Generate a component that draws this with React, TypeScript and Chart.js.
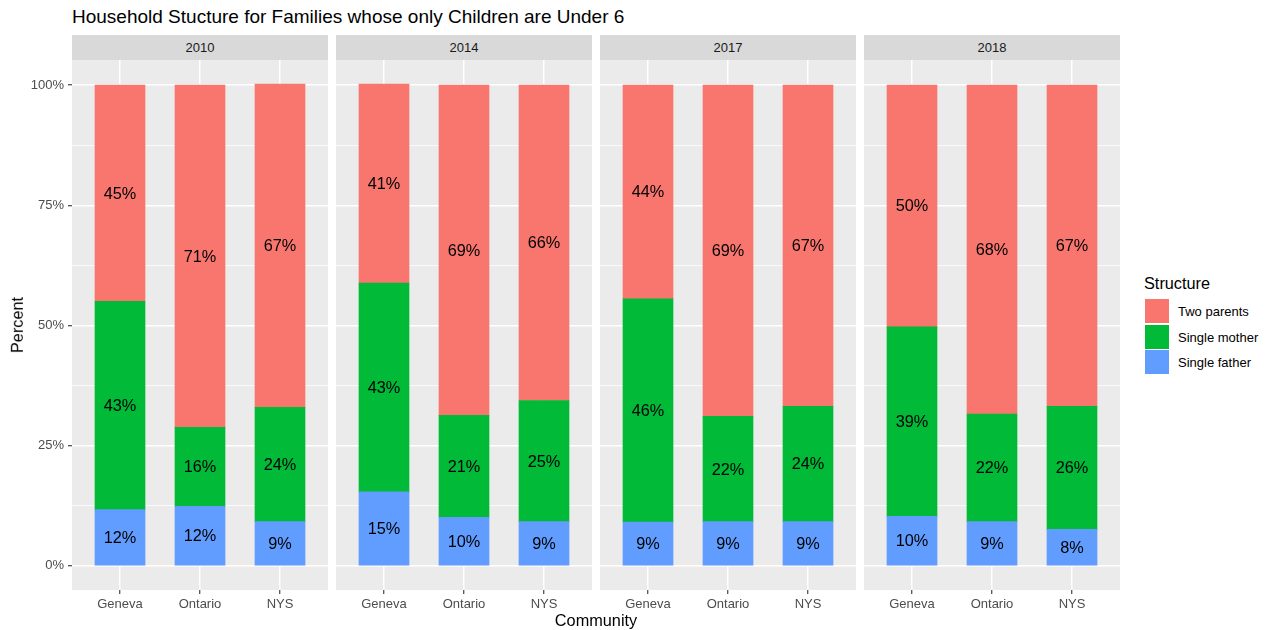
import React, { useEffect, useRef } from "react";
import { Chart, registerables } from "chart.js";

Chart.register(...registerables);

// ---- data ----
const years = ["2010", "2014", "2017", "2018"];
const communities = ["Geneva", "Ontario", "NYS"];
const seriesNames = ["Single father", "Single mother", "Two parents"];
const seriesColors = ["#619CFF", "#00BA38", "#F8766D"];
// values per year (rows) for Geneva, Ontario, NYS (columns)
const singleFather = [
  [11.7, 12.4, 9.2],
  [15.4, 10.1, 9.2],
  [9.1, 9.2, 9.2],
  [10.3, 9.2, 7.6],
];
const singleMother = [
  [43.3, 16.4, 23.8],
  [43.4, 21.2, 25.2],
  [46.45, 21.9, 24.0],
  [39.4, 22.4, 25.6],
];
const twoParents = [
  [45.0, 71.2, 67.2],
  [41.4, 68.7, 65.6],
  [44.45, 68.9, 66.8],
  [50.3, 68.4, 66.8],
];
const yMajorTicks = [0, 25, 50, 75, 100];
const yMinorTicks = [12.5, 37.5, 62.5, 87.5];
const legendOrder = ["Two parents", "Single mother", "Single father"];

const FONT = "'Liberation Sans', Arial, Helvetica, sans-serif";
const PANEL_TOP = 60;
const PANEL_H = 530;
const PANEL_W = 256;
const Y_AXIS_W = 72;
const X_AXIS_H = 40;
const panelLefts = [72, 336, 600, 864];

const bgPlugin = {
  id: "panelBg",
  beforeDraw(chart: any) {
    const { ctx, chartArea: a } = chart;
    ctx.save();
    ctx.fillStyle = "#EBEBEB";
    ctx.fillRect(a.left, a.top, a.right - a.left, a.bottom - a.top);
    ctx.restore();
  },
};

const labelPlugin = {
  id: "barLabels",
  afterDatasetsDraw(chart: any) {
    const { ctx } = chart;
    ctx.save();
    ctx.fillStyle = "#000000";
    ctx.font = `16.3px ${FONT}`;
    ctx.textAlign = "center";
    ctx.textBaseline = "middle";
    chart.data.datasets.forEach((ds: any, i: number) => {
      const meta = chart.getDatasetMeta(i);
      meta.data.forEach((el: any, j: number) => {
        const p = el.getProps(["x", "y", "base"], true);
        const v = ds.data[j].y;
        ctx.fillText(`${Math.round(v)}%`, p.x, (p.y + p.base) / 2 + 1);
      });
    });
    ctx.restore();
  },
};

function Panel({ index, showY }: { index: number; showY: boolean }) {
  const ref = useRef<HTMLCanvasElement>(null);
  const canvasW = PANEL_W + (showY ? Y_AXIS_W : 0);
  const canvasH = PANEL_H + X_AXIS_H;
  const left = panelLefts[index] - (showY ? Y_AXIS_W : 0);

  useEffect(() => {
    const seriesValues = [singleFather[index], singleMother[index], twoParents[index]];
    const chart = new Chart(ref.current as HTMLCanvasElement, {
      type: "bar",
      data: {
        datasets: seriesValues.map((vals, i) => ({
          label: seriesNames[i],
          data: vals.map((v, j) => ({ x: j + 1, y: v })),
          backgroundColor: seriesColors[i],
          borderWidth: 0,
          barThickness: 50,
        })),
      },
      options: {
        animation: false,
        responsive: false,
        events: [],
        layout: { padding: 0 },
        plugins: {
          legend: { display: false },
          title: { display: false },
          tooltip: { enabled: false },
        },
        scales: {
          x: {
            type: "linear",
            min: 0.4,
            max: 3.6,
            stacked: true,
            offset: false,
            afterBuildTicks: (s: any) => {
              s.ticks = communities.map((_, j) => ({ value: j + 1 }));
            },
            afterFit: (s: any) => {
              s.height = X_AXIS_H;
              s.paddingLeft = 0;
              s.paddingRight = 0;
            },
            ticks: {
              autoSkip: false,
              maxRotation: 0,
              padding: 3,
              color: "#4D4D4D",
              font: { family: FONT, size: 13 },
              callback: (v: any) => communities[Math.round(v) - 1] ?? "",
            },
            grid: {
              color: "#FFFFFF",
              lineWidth: 1.5,
              offset: false,
              drawTicks: true,
              tickLength: 4,
              tickColor: "#333333",
              tickWidth: 1.1,
            },
            border: { display: false },
          },
          y: {
            type: "linear",
            min: -5.01,
            max: 105.21,
            stacked: true,
            afterBuildTicks: (s: any) => {
              s.ticks = [...yMajorTicks, ...yMinorTicks]
                .sort((a, b) => a - b)
                .map((v) => ({ value: v }));
            },
            afterFit: (s: any) => {
              s.width = showY ? Y_AXIS_W : 0;
              s.paddingTop = 0;
              s.paddingBottom = 0;
            },
            ticks: {
              display: showY,
              autoSkip: false,
              padding: 4,
              color: "#4D4D4D",
              font: { family: FONT, size: 13 },
              callback: (v: any) => (yMajorTicks.includes(v) ? `${v}%` : ""),
            },
            grid: {
              color: "#FFFFFF",
              lineWidth: (ctx: any) =>
                ctx.tick && yMajorTicks.includes(ctx.tick.value) ? 1.5 : 0.75,
              drawTicks: showY,
              tickLength: 4,
              tickColor: (ctx: any) =>
                ctx.tick && yMajorTicks.includes(ctx.tick.value) ? "#333333" : "rgba(0,0,0,0)",
              tickWidth: 1.1,
            },
            border: { display: false },
          },
        },
      } as any,
      plugins: [bgPlugin, labelPlugin],
    });
    return () => chart.destroy();
  }, []);

  return (
    <>
      <div
        style={{
          position: "absolute",
          left: panelLefts[index],
          top: 35,
          width: PANEL_W,
          height: 25,
          background: "#D9D9D9",
          color: "#1A1A1A",
          fontFamily: FONT,
          fontSize: 13,
          lineHeight: "25px",
          textAlign: "center",
        }}
      >
        {years[index]}
      </div>
      <canvas
        ref={ref}
        width={canvasW}
        height={canvasH}
        style={{
          position: "absolute",
          left,
          top: PANEL_TOP,
          width: canvasW,
          height: canvasH,
        }}
      />
    </>
  );
}

export default function App() {
  const legendColor: Record<string, string> = {};
  seriesNames.forEach((n, i) => (legendColor[n] = seriesColors[i]));
  return (
    <div
      style={{
        position: "absolute",
        left: 0,
        top: 0,
        width: 1270,
        height: 630,
        background: "#FFFFFF",
        overflow: "hidden",
        fontFamily: FONT,
      }}
    >
      <div
        style={{
          position: "absolute",
          left: 72,
          top: 6.6,
          fontSize: 19,
          lineHeight: "19px",
          color: "#000000",
          whiteSpace: "nowrap",
        }}
      >
        Household Stucture for Families whose only Children are Under 6
      </div>
      {years.map((_, i) => (
        <Panel key={i} index={i} showY={i === 0} />
      ))}
      <div
        style={{
          position: "absolute",
          left: 17,
          top: 325,
          fontSize: 16.3,
          lineHeight: "16.3px",
          color: "#000000",
          whiteSpace: "nowrap",
          transform: "translate(-50%, -50%) rotate(-90deg)",
        }}
      >
        Percent
      </div>
      <div
        style={{
          position: "absolute",
          left: 596,
          top: 612,
          fontSize: 16.3,
          lineHeight: "16.3px",
          color: "#000000",
          whiteSpace: "nowrap",
          transform: "translateX(-50%)",
        }}
      >
        Community
      </div>
      <div
        style={{
          position: "absolute",
          left: 1144,
          top: 274.9,
          fontSize: 16.3,
          lineHeight: "16.3px",
          color: "#000000",
          whiteSpace: "nowrap",
        }}
      >
        Structure
      </div>
      {legendOrder.map((name, k) => (
        <React.Fragment key={name}>
          <div
            style={{
              position: "absolute",
              left: 1145,
              top: 299 + k * 25.5,
              width: 24,
              height: 24,
              background: legendColor[name],
            }}
          />
          <div
            style={{
              position: "absolute",
              left: 1178,
              top: 305 + k * 25.5,
              fontSize: 13,
              lineHeight: "13px",
              color: "#000000",
              whiteSpace: "nowrap",
            }}
          >
            {name}
          </div>
        </React.Fragment>
      ))}
    </div>
  );
}
